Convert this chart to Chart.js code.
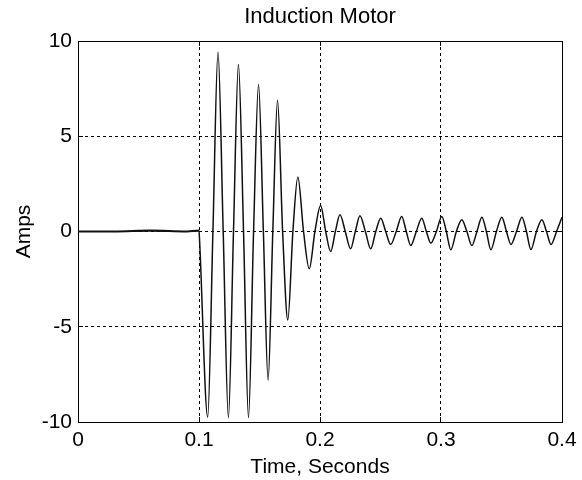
<!DOCTYPE html>
<html lang="en">
<head>
<meta charset="UTF-8">
<title>Induction Motor</title>
<style>
    html, body {
        margin: 0;
        padding: 0;
        background: #fff;
    }
    .chart {
        position: relative;
        width: 582px;
        height: 480px;
    }
</style>
</head>
<body>
<div class="chart">
    <canvas id="motorChart" width="582" height="480"></canvas>
</div>
<script src="https://cdn.jsdelivr.net/npm/chart.js@4.4.0/dist/chart.umd.min.js"></script>
<script>
// time (s) and current (A): peaks, troughs and zero crossings
const times = [
    0, 0.03, 0.06, 0.09, 0.1, 0.1005,
    0.1072, 0.1115, 0.1157, 0.1200, 0.1243, 0.1285, 0.1326, 0.1368, 0.1409, 0.1451,
    0.1492, 0.1532, 0.1571, 0.1610, 0.1649, 0.1691, 0.1734, 0.1776, 0.1817, 0.1864,
    0.1911, 0.1958, 0.2005, 0.2047, 0.2088, 0.2127, 0.2165, 0.2209, 0.2253, 0.2292,
    0.2330, 0.2375, 0.2419, 0.2461, 0.2502, 0.2543, 0.2584, 0.2630, 0.2675, 0.2713,
    0.2750, 0.2796, 0.2841, 0.2879, 0.2916, 0.2962, 0.3007, 0.3044, 0.3081, 0.3127,
    0.3172, 0.3214, 0.3255, 0.3297, 0.3338, 0.3375, 0.3412, 0.3458, 0.3503, 0.3541,
    0.3578, 0.3624, 0.3669, 0.3706, 0.3743, 0.3789, 0.3834, 0.3872, 0.3909, 0.3955,
    0.4
];
const amps = [
    0, 0, 0.05, 0, 0.05, -0.5,
    -9.74, 0, 9.42, 0, -9.77, 0, 8.77, 0, -9.77, 0,
    7.72, 0, -7.80, 0, 6.89, 0, -4.65, 0, 2.86, 0,
    -1.96, 0, 1.37, 0, -1.05, 0, 0.88, 0, -0.91, 0,
    0.83, 0, -0.91, 0, 0.70, 0, -0.68, 0, 0.79, 0,
    -0.74, 0, 0.70, 0, -0.61, 0, 0.79, 0, -0.96, 0,
    0.62, 0, -0.74, 0, 0.75, 0, -0.96, 0, 0.75, 0,
    -0.68, 0, 0.75, 0, -0.95, 0, 0.62, 0, -0.68, 0,
    0.75
];
const xTicks = [0, 0.1, 0.2, 0.3, 0.4];
const yTicks = [-10, -5, 0, 5, 10];

Chart.defaults.font.family = '"Liberation Sans", Arial, sans-serif';
Chart.defaults.color = '#000';

const points = times.map((t, i) => ({ x: t, y: amps[i] }));

const setTicks = list => scale => {
    scale.ticks = list.map(v => ({ value: v }));
};

const gridOpts = {
    color: '#000',
    lineWidth: 1,
    tickLength: -5,
    tickColor: '#000'
};

const config = {
    type: 'line',
    data: {
        datasets: [{
            data: points,
            borderColor: '#111',
            borderWidth: 1.5,
            pointRadius: 0,
            fill: false,
            cubicInterpolationMode: 'monotone',
            segment: {
                borderWidth: c => (c.p1.parsed.x <= 0.1 ? 2.2 : 1.5)
            }
        }]
    },
    options: {
        responsive: false,
        animation: false,
        layout: { padding: { top: 0, left: 0, right: 20, bottom: 0 } },
        plugins: {
            legend: { display: false },
            tooltip: { enabled: false },
            title: {
                display: true,
                text: 'Induction Motor',
                fullSize: false,
                color: '#000',
                font: { size: 22, weight: 'normal' },
                padding: { top: 3.5, bottom: 11.1 }
            }
        },
        scales: {
            x: {
                type: 'linear',
                position: 'bottom',
                min: 0,
                max: 0.4,
                afterBuildTicks: setTicks(xTicks),
                ticks: {
                    font: { size: 21 },
                    padding: 11,
                    maxRotation: 0,
                    autoSkip: false,
                    callback: v => String(v)
                },
                grid: gridOpts,
                border: { display: true, color: '#000', width: 1, dash: [3, 3] },
                title: {
                    display: true,
                    text: 'Time, Seconds',
                    font: { size: 21 },
                    padding: { top: 0, bottom: 0 }
                },
                afterFit: s => {
                    s.height = 58;
                    s.paddingLeft = 0;
                    s.paddingRight = 0;
                }
            },
            y: {
                type: 'linear',
                position: 'left',
                min: -10,
                max: 10,
                afterBuildTicks: setTicks(yTicks),
                ticks: {
                    font: { size: 21 },
                    padding: 11,
                    callback: v => String(v)
                },
                grid: gridOpts,
                border: { display: true, color: '#000', width: 1, dash: [3, 3] },
                title: {
                    display: true,
                    text: 'Amps',
                    font: { size: 21 },
                    padding: { top: 12, bottom: 0 }
                },
                afterFit: s => {
                    s.width = 78;
                    s.paddingTop = 0;
                    s.paddingBottom = 0;
                }
            },
            // top and right sides of the box
            x2: {
                type: 'linear',
                position: 'top',
                min: 0,
                max: 0.4,
                afterBuildTicks: setTicks(xTicks),
                ticks: { display: false },
                grid: Object.assign({ drawOnChartArea: false }, gridOpts),
                border: { display: true, color: '#000', width: 1 },
                afterFit: s => { s.height = 0; s.paddingLeft = 0; s.paddingRight = 0; }
            },
            y2: {
                type: 'linear',
                position: 'right',
                min: -10,
                max: 10,
                afterBuildTicks: setTicks(yTicks),
                ticks: { display: false },
                grid: Object.assign({ drawOnChartArea: false }, gridOpts),
                border: { display: true, color: '#000', width: 1 },
                afterFit: s => { s.width = 0; s.paddingTop = 0; s.paddingBottom = 0; }
            }
        }
    }
};

const motorChart = new Chart(document.getElementById('motorChart'), config);
</script>
</body>
</html>
